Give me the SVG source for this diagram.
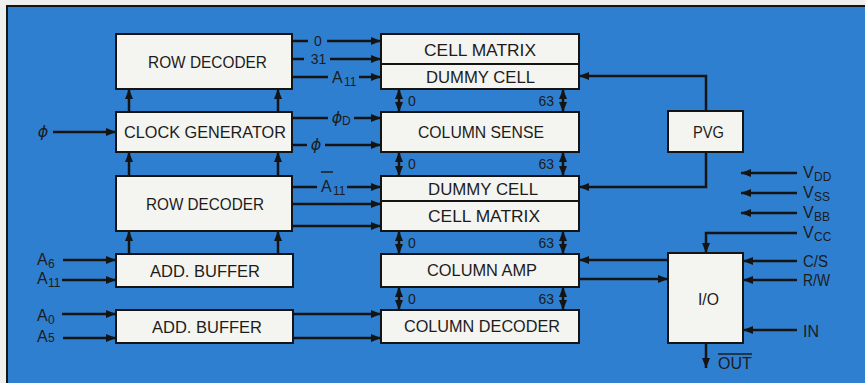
<svg xmlns="http://www.w3.org/2000/svg" width="865" height="383" viewBox="0 0 865 383">
<style>
.box{fill:#f4f4f1;stroke:#141414;stroke-width:2}
.lbl{font-family:"Liberation Sans",Arial,sans-serif;font-size:17px;fill:#1c1c1c;text-anchor:middle}
.sm{font-family:"Liberation Sans",Arial,sans-serif;font-size:14px;fill:#1c1c1c}
.sig{font-family:"Liberation Sans",Arial,sans-serif;font-size:16px;fill:#1c1c1c}
.sub{font-family:"Liberation Sans",Arial,sans-serif;font-size:12px;fill:#1c1c1c}
.phi{font-family:"DejaVu Sans","Liberation Sans",sans-serif;font-size:16px;fill:#1c1c1c;font-style:italic}
.w{fill:none;stroke:#141414;stroke-width:2.5}
.a{marker-end:url(#ah)}
.d{marker-end:url(#ah);marker-start:url(#ah)}
</style>
<defs>
<marker id="ah" viewBox="0 0 10 8" refX="10" refY="4" markerWidth="10" markerHeight="8" orient="auto-start-reverse" markerUnits="userSpaceOnUse">
<path d="M0,0 L10,4 L0,8 z" fill="#141414"/>
</marker>
</defs>
<rect x="0" y="0" width="865" height="383" fill="#eef0ee"/>
<rect x="7" y="6" width="870" height="390" fill="#2f7fd1" stroke="#141414" stroke-width="2"/>

<g id="connectors">
<!-- left column up arrows -->
<line class="w a" x1="129" y1="112" x2="129" y2="89"/>
<line class="w a" x1="278" y1="112" x2="278" y2="89"/>
<line class="w a" x1="129" y1="176" x2="129" y2="152"/>
<line class="w a" x1="278" y1="176" x2="278" y2="152"/>
<line class="w a" x1="129" y1="254" x2="129" y2="231"/>
<line class="w a" x1="278" y1="254" x2="278" y2="231"/>
<!-- row decoder top outputs -->
<line class="w" x1="292" y1="41" x2="308" y2="41"/>
<line class="w a" x1="327" y1="41" x2="381" y2="41"/>
<line class="w" x1="292" y1="59" x2="304" y2="59"/>
<line class="w a" x1="330" y1="59" x2="381" y2="59"/>
<line class="w" x1="292" y1="77" x2="328" y2="77"/>
<line class="w a" x1="359" y1="77" x2="381" y2="77"/>
<!-- clock generator outputs -->
<line class="w" x1="292" y1="118" x2="328" y2="118"/>
<line class="w a" x1="354" y1="118" x2="381" y2="118"/>
<line class="w" x1="292" y1="145" x2="307" y2="145"/>
<line class="w a" x1="325" y1="145" x2="381" y2="145"/>
<!-- row decoder 2 outputs -->
<line class="w" x1="292" y1="187" x2="317" y2="187"/>
<line class="w a" x1="347" y1="187" x2="381" y2="187"/>
<line class="w a" x1="292" y1="204" x2="381" y2="204"/>
<line class="w a" x1="292" y1="226" x2="381" y2="226"/>
<!-- inputs left -->
<line class="w a" x1="53" y1="132" x2="116" y2="132"/>
<line class="w a" x1="63" y1="260" x2="116" y2="260"/>
<line class="w a" x1="62" y1="280" x2="116" y2="280"/>
<line class="w a" x1="62" y1="314" x2="116" y2="314"/>
<line class="w a" x1="63" y1="338" x2="116" y2="338"/>
<!-- add buffer 2 to column decoder -->
<line class="w a" x1="293" y1="314" x2="381" y2="314"/>
<line class="w a" x1="293" y1="338" x2="381" y2="338"/>
<!-- middle double arrows -->
<line class="w d" x1="399" y1="89" x2="399" y2="112"/>
<line class="w d" x1="563" y1="89" x2="563" y2="112"/>
<line class="w d" x1="399" y1="152" x2="399" y2="176"/>
<line class="w d" x1="563" y1="152" x2="563" y2="176"/>
<line class="w d" x1="399" y1="231" x2="399" y2="254"/>
<line class="w d" x1="563" y1="231" x2="563" y2="254"/>
<line class="w d" x1="399" y1="287" x2="399" y2="310"/>
<line class="w d" x1="563" y1="287" x2="563" y2="310"/>
<!-- PVG -->
<polyline class="w a" points="706,111 706,76 579,76"/>
<polyline class="w a" points="706,152 706,187 579,187"/>
<!-- power -->
<line class="w a" x1="797" y1="173" x2="741" y2="173"/>
<line class="w a" x1="797" y1="193" x2="741" y2="193"/>
<line class="w a" x1="797" y1="213" x2="741" y2="213"/>
<polyline class="w a" points="797,233 706,233 706,253"/>
<line class="w a" x1="797" y1="261" x2="743" y2="261"/>
<line class="w a" x1="797" y1="280" x2="743" y2="280"/>
<line class="w a" x1="797" y1="330" x2="743" y2="330"/>
<line class="w a" x1="706" y1="343" x2="706" y2="368"/>
<!-- column amp <-> I/O -->
<line class="w a" x1="668" y1="260" x2="579" y2="260"/>
<line class="w a" x1="579" y1="279" x2="668" y2="279"/>
</g>

<g id="connector-labels">
<text class="sm" x="318" y="46" text-anchor="middle">0</text>
<text class="sm" x="318.5" y="64" text-anchor="middle">31</text>
<text class="sig" x="332" y="82.5">A</text><text class="sub" x="344" y="85.5">11</text>
<text class="phi" x="337" y="123" text-anchor="middle">ϕ</text><text class="sub" x="342" y="125">D</text>
<text class="phi" x="316" y="150" text-anchor="middle">ϕ</text>
<text class="sig" x="321" y="192">A</text><text class="sub" x="333" y="195">11</text>
<line x1="321" y1="172" x2="333" y2="172" stroke="#1c1c1c" stroke-width="1.5"/>
<text class="phi" x="43" y="137" text-anchor="middle">ϕ</text>
<text class="sig" x="37" y="264.5">A</text><text class="sub" x="48" y="268">6</text>
<text class="sig" x="37" y="283.5">A</text><text class="sub" x="48" y="287">11</text>
<text class="sig" x="37" y="320.5">A</text><text class="sub" x="48" y="324">0</text>
<text class="sig" x="37" y="342">A</text><text class="sub" x="48" y="342">5</text>
<text class="sm" x="408" y="106">0</text><text class="sm" x="554" y="106" text-anchor="end">63</text>
<text class="sm" x="408" y="169">0</text><text class="sm" x="554" y="169" text-anchor="end">63</text>
<text class="sm" x="408" y="248">0</text><text class="sm" x="554" y="248" text-anchor="end">63</text>
<text class="sm" x="408" y="304">0</text><text class="sm" x="554" y="304" text-anchor="end">63</text>
<text class="sig" x="803" y="178">V</text><text class="sub" x="814" y="181">DD</text>
<text class="sig" x="803" y="197.5">V</text><text class="sub" x="814" y="201">SS</text>
<text class="sig" x="803" y="217.5">V</text><text class="sub" x="814" y="221">BB</text>
<text class="sig" x="803" y="237.5">V</text><text class="sub" x="814" y="241">CC</text>
<text class="sig" x="803" y="267" textLength="25" lengthAdjust="spacingAndGlyphs">C/S</text>
<text class="sig" x="803" y="286" textLength="27" lengthAdjust="spacingAndGlyphs">R/W</text>
<text class="sig" x="803" y="336.5">IN</text>
<text class="sig" x="718" y="369">OUT</text>
<line x1="718" y1="354" x2="752" y2="354" stroke="#1c1c1c" stroke-width="1.5"/>
</g>

<g id="row-decoder-1"><rect class="box" x="116" y="34" width="176" height="55"/><text class="lbl" x="207.5" y="67.5" textLength="119" lengthAdjust="spacingAndGlyphs">ROW DECODER</text></g>
<g id="clock-generator"><rect class="box" x="116" y="112" width="176" height="40"/><text class="lbl" x="205" y="137.5" textLength="162" lengthAdjust="spacingAndGlyphs">CLOCK GENERATOR</text></g>
<g id="row-decoder-2"><rect class="box" x="116" y="176" width="176" height="55"/><text class="lbl" x="205" y="209.5" textLength="118" lengthAdjust="spacingAndGlyphs">ROW DECODER</text></g>
<g id="add-buffer-1"><rect class="box" x="116" y="254" width="177" height="33"/><text class="lbl" x="205" y="276.5" textLength="110" lengthAdjust="spacingAndGlyphs">ADD. BUFFER</text></g>
<g id="add-buffer-2"><rect class="box" x="116" y="310" width="177" height="33"/><text class="lbl" x="207" y="332.5" textLength="110" lengthAdjust="spacingAndGlyphs">ADD. BUFFER</text></g>
<g id="cell-matrix-1"><rect class="box" x="381" y="34" width="198" height="30"/><text class="lbl" x="480" y="55.5" textLength="112" lengthAdjust="spacingAndGlyphs">CELL MATRIX</text></g>
<g id="dummy-cell-1"><rect class="box" x="381" y="64" width="198" height="25"/><text class="lbl" x="480.5" y="83" textLength="109" lengthAdjust="spacingAndGlyphs">DUMMY CELL</text></g>
<g id="column-sense"><rect class="box" x="381" y="112" width="198" height="40"/><text class="lbl" x="481" y="138" textLength="126" lengthAdjust="spacingAndGlyphs">COLUMN SENSE</text></g>
<g id="dummy-cell-2"><rect class="box" x="381" y="176" width="198" height="25"/><text class="lbl" x="483" y="194.5" textLength="110" lengthAdjust="spacingAndGlyphs">DUMMY CELL</text></g>
<g id="cell-matrix-2"><rect class="box" x="381" y="201" width="198" height="30"/><text class="lbl" x="484" y="221.5" textLength="112" lengthAdjust="spacingAndGlyphs">CELL MATRIX</text></g>
<g id="column-amp"><rect class="box" x="381" y="254" width="198" height="33"/><text class="lbl" x="482" y="276" textLength="110" lengthAdjust="spacingAndGlyphs">COLUMN AMP</text></g>
<g id="column-decoder"><rect class="box" x="381" y="310" width="198" height="33"/><text class="lbl" x="482" y="332" textLength="156" lengthAdjust="spacingAndGlyphs">COLUMN DECODER</text></g>
<g id="pvg"><rect class="box" x="668" y="111" width="75" height="41"/><text class="lbl" x="708.5" y="138" textLength="31" lengthAdjust="spacingAndGlyphs">PVG</text></g>
<g id="io"><rect class="box" x="668" y="253" width="75" height="90"/><text class="lbl" x="708.5" y="305" textLength="21" lengthAdjust="spacingAndGlyphs">I/O</text></g>
</svg>
